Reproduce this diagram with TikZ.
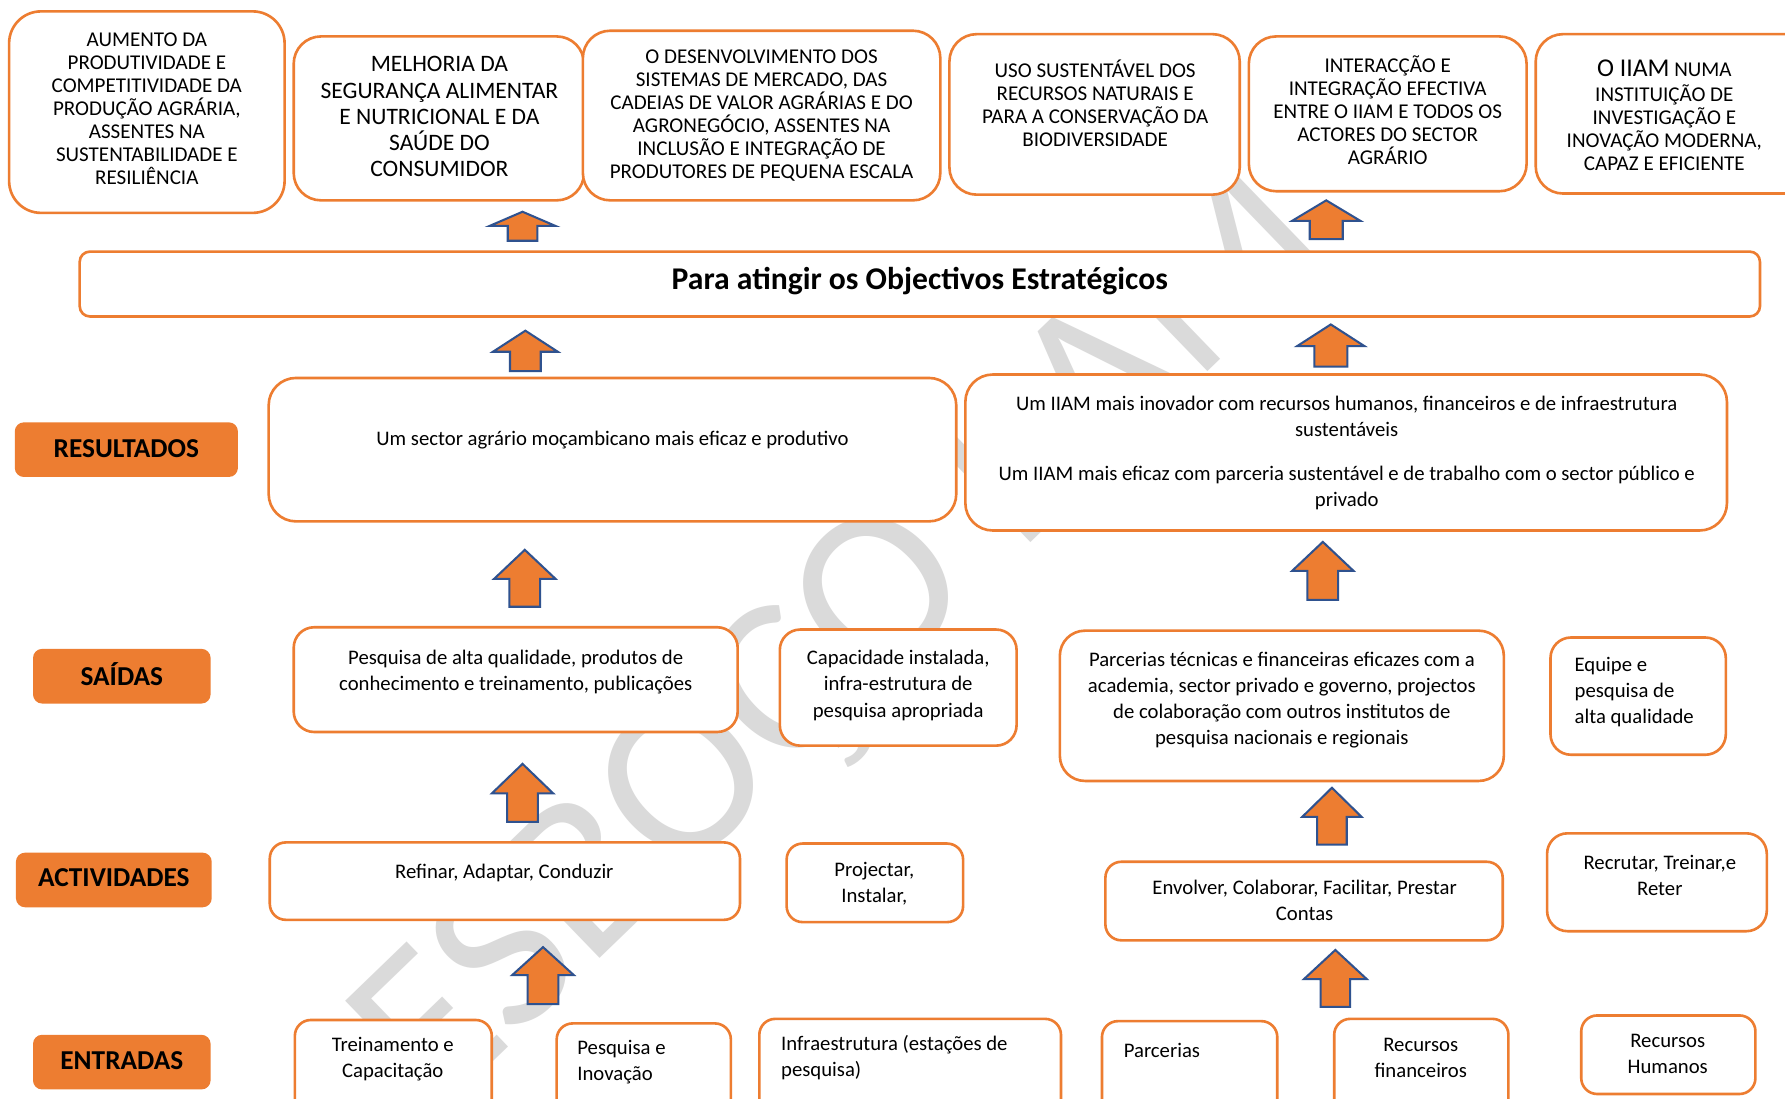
\documentclass[tikz,border=0pt]{standalone}
\usepackage{fontspec}
\setmainfont{Carlito}
\usetikzlibrary{fit}
\definecolor{orn}{HTML}{ED7D31}
\definecolor{arb}{HTML}{2F528F}
\definecolor{wmg}{HTML}{DADADA}
\tikzset{
  box/.style={draw=orn, line width=2.3pt, fill=white, inner sep=0pt, rounded corners=#1},
  box/.default=18pt,
  lab/.style={fill=orn, inner sep=0pt, rounded corners=8pt},
  txt/.style={inner sep=0pt, align=center, font=\fontsize{18.2}{23}\selectfont},
  txtl/.style={inner sep=0pt, align=left, anchor=west, font=\fontsize{18.2}{23}\selectfont},
  caps/.style={inner sep=0pt, align=center, font=\fontsize{18.5}{20.2}\selectfont},
  labtxt/.style={inner sep=0pt, font=\fontsize{24}{26}\selectfont\bfseries},
  blockarrow/.style={fill=orn, draw=arb, line width=1.8pt, line join=miter},
  wm/.style={text=wmg, inner sep=0pt, font=\fontsize{200}{200}\selectfont}
}
\newcommand\uparrowshape[6]{%
  \draw[blockarrow] (#1,#2) -- ({#1+#5},#3) -- ({#1+#6},#3) -- ({#1+#6},#4)
    -- ({#1-#6},#4) -- ({#1-#6},#3) -- ({#1-#5},#3) -- cycle;}
\begin{document}
\begin{tikzpicture}[x=1pt, y=-1pt]
\useasboundingbox (0,0) rectangle (1568,965);
\fill[white] (0,0) rectangle (1568,965);
% watermark
\node[wm, rotate=44, anchor=base west] (wmark) at (382,982) {ESBOÇO IIAM};

% top row
\node[box=28pt, fit={(8,10) (250,187)}] (t1) {};
\node[caps] (t1t) at (129,95.5) {AUMENTO DA\\PRODUTIVIDADE E\\COMPETITIVIDADE DA\\PRODUÇÃO AGRÁRIA,\\ASSENTES NA\\SUSTENTABILIDADE E\\RESILIÊNCIA};
\node[box=24pt, fit={(258,32) (513,176)}] (t2) {};
\node[caps, font=\fontsize{20.7}{23}\selectfont] (t2t) at (386,102.5) {MELHORIA DA\\SEGURANÇA ALIMENTAR\\E NUTRICIONAL E DA\\SAÚDE DO\\CONSUMIDOR};
\node[box=24pt, fit={(512,27) (826,176)}] (t3) {};
\node[caps] (t3t) at (669,101.5) {O DESENVOLVIMENTO DOS\\SISTEMAS DE MERCADO, DAS\\CADEIAS DE VALOR AGRÁRIAS E DO\\AGRONEGÓCIO, ASSENTES NA\\INCLUSÃO E INTEGRAÇÃO DE\\PRODUTORES DE PEQUENA ESCALA};
\node[box=24pt, fit={(834,30) (1089,171)}] (t4) {};
\node[caps] (t4t) at (962,91) {USO SUSTENTÁVEL DOS\\RECURSOS NATURAIS E\\PARA A CONSERVAÇÃO DA\\BIODIVERSIDADE};
\node[box=24pt, fit={(1097,32) (1341,168)}] (t5) {};
\node[caps] (t5t) at (1219,97) {INTERACÇÃO E\\INTEGRAÇÃO EFECTIVA\\ENTRE O IIAM E TODOS OS\\ACTORES DO SECTOR\\AGRÁRIO};
\node[box=24pt, fit={(1349,30) (1600,170)}] (t6) {};
\node[caps] (t6t) at (1462,101) {{\fontsize{22.5}{22}\selectfont O IIAM} NUMA\\[2pt]INSTITUIÇÃO DE\\INVESTIGAÇÃO E\\INOVAÇÃO MODERNA,\\CAPAZ E EFICIENTE};

% arrows into objectives
\uparrowshape{459}{186}{198.5}{211.5}{29}{13}
\uparrowshape{1165}{176}{194}{210}{30}{14.5}

% bar
\node[box=9pt, fit={(70,221) (1546,278)}] (bar) {};
\node[inner sep=0pt, font=\fontsize{27.8}{29}\selectfont\bfseries] (bart) at (808,247) {Para atingir os Objectivos Estratégicos};

\uparrowshape{461.5}{290.5}{309}{326}{28.5}{13.5}
\uparrowshape{1169}{285}{304}{322}{29.5}{14.5}

% labels
\node[lab, fit={(13,371) (209,419)}] (lres) {};
\node[labtxt] (lrest) at (111,394) {RESULTADOS};
\node[lab, fit={(29,570) (185,618)}] (lsai) {};
\node[labtxt] (lsait) at (107,592) {SAÍDAS};
\node[lab, fit={(14,749) (186,797)}] (lact) {};
\node[labtxt] (lactt) at (100,771) {ACTIVIDADES};
\node[lab, fit={(29,909) (185,957)}] (lent) {};
\node[labtxt] (lentt) at (107,932) {ENTRADAS};

% results
\node[box=24pt, fit={(236,332) (840,458)}] (r1) {};
\node[txt] (r1t) at (538,387) {Um sector agrário moçambicano mais eficaz e produtivo};
\node[box=24pt, fit={(848,329) (1517,466)}] (r2) {};
\node[txt] (r2t) at (1183,398) {Um IIAM mais inovador com recursos humanos, financeiros e de infraestrutura\\sustentáveis\\[15pt]Um IIAM mais eficaz com parceria sustentável e de trabalho com o sector público e\\privado};

\uparrowshape{461}{483}{508.5}{533}{27}{13.5}
\uparrowshape{1162}{476}{501.5}{527}{27}{13.5}

% outputs
\node[box=18pt, fit={(258,551) (648,643)}] (s1) {};
\node[txt] (s1t) at (453,590) {Pesquisa de alta qualidade, produtos de\\conhecimento e treinamento, publicações};
\node[box=18pt, fit={(685,553) (893,655)}] (s2) {};
\node[txt] (s2t) at (789,602) {Capacidade instalada,\\infra-estrutura de\\pesquisa apropriada};
\node[box=22pt, fit={(931,554) (1321,686)}] (s3) {};
\node[txt] (s3t) at (1126,615) {Parcerias técnicas e financeiras eficazes com a\\academia, sector privado e governo, projectos\\de colaboração com outros institutos de\\pesquisa nacionais e regionais};
\node[box=18pt, fit={(1362,560) (1516,663)}] (s4) {};
\node[txtl] (s4t) at (1383,608) {Equipe e\\pesquisa de\\alta qualidade};

\uparrowshape{459}{671}{697}{722}{27}{13.5}
\uparrowshape{1170}{692}{717.5}{742}{26}{13}

% activities
\node[box=14pt, fit={(237,740) (650,808)}] (ac1) {};
\node[txt] (ac1t) at (443,767) {Refinar, Adaptar, Conduzir};
\node[box=14pt, fit={(691,741) (846,810)}] (ac2) {};
\node[txt] (ac2t) at (768,776) {Projectar,\\Instalar,};
\node[box=14pt, fit={(971,757) (1320,826)}] (ac3) {};
\node[txt] (ac3t) at (1146,791) {Envolver, Colaborar, Facilitar, Prestar\\Contas};
\node[box=18pt, fit={(1359,732) (1552,818)}] (ac4) {};
\node[txt] (ac4t) at (1458,769) {Recrutar, Treinar,e\\Reter};

\uparrowshape{477}{832}{856.5}{882}{27}{13.5}
\uparrowshape{1173}{834.5}{860}{884.5}{27.5}{13}

% inputs
\node[box=14pt, fit={(259,896) (432,985)}] (e1) {};
\node[txt] (e1t) at (345,930) {Treinamento e\\Capacitação};
\node[box=14pt, fit={(489,899) (642,985)}] (e2) {};
\node[txtl] (e2t) at (507,933) {Pesquisa e\\Inovação};
\node[box=14pt, fit={(667,895) (932,985)}] (e3) {};
\node[txtl] (e3t) at (686,929) {Infraestrutura (estações de\\pesquisa)};
\node[box=14pt, fit={(968,897) (1122,985)}] (e4) {};
\node[txtl] (e4t) at (987,923) {Parcerias};
\node[box=14pt, fit={(1172,895) (1325,985)}] (e5) {};
\node[txt] (e5t) at (1248,929) {Recursos\\financeiros};
\node[box=14pt, fit={(1389,892) (1542,961)}] (e6) {};
\node[txt] (e6t) at (1465,925.5) {Recursos\\Humanos};
\end{tikzpicture}
\end{document}
